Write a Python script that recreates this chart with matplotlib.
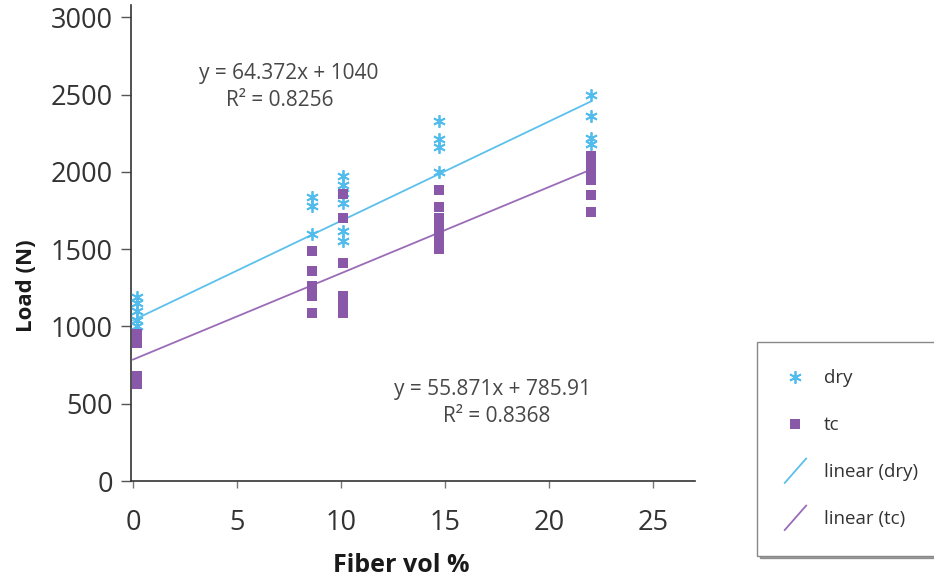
import matplotlib
matplotlib.use("Agg")
import matplotlib.pyplot as plt
import numpy as np
from matplotlib.lines import Line2D
from matplotlib.legend_handler import HandlerBase

# ---------------- data ----------------
dry_x = [0.2] * 5 + [8.6] * 3 + [10.1] * 6 + [14.7] * 4 + [22.0] * 4
dry_y = [1190, 1150, 1100, 1040, 1000,
         1840, 1780, 1600,
         1975, 1915, 1865, 1800, 1615, 1555,
         2330, 2210, 2160, 2000,
         2500, 2365, 2220, 2180]

tc_x = [0.2] * 5 + [8.6] * 5 + [10.1] * 6 + [14.7] * 7 + [22.0] * 6
tc_y = [950, 920, 890, 680, 630,
        1490, 1360, 1260, 1200, 1090,
        1860, 1700, 1410, 1200, 1150, 1090,
        1880, 1770, 1700, 1650, 1600, 1550, 1500,
        2100, 2050, 2000, 1950, 1850, 1740]

fit_slope = {"dry": 64.372, "tc": 55.871}
fit_intercept = {"dry": 1040, "tc": 785.91}
fit_r2 = {"dry": 0.8256, "tc": 0.8368}
fit_range = [0, 22]

x_ticks = [0, 5, 10, 15, 20, 25]
y_ticks = [0, 500, 1000, 1500, 2000, 2500, 3000]

# ---------------- style ----------------
plt.rcParams['font.family'] = ['Open Sans', 'DejaVu Sans']
c_dry = '#52bcec'
c_tc = '#8a58a8'
c_dry_line = '#5cc0ec'
c_tc_line = '#9a6cb8'
asterisk = (6, 2, 0)

W, H = 934, 583
fig = plt.figure(figsize=(W / 100, H / 100), dpi=100)
ax = fig.add_axes([131 / W, 1 - 481 / H, (695 - 131) / W, (481 - 5) / H])

ax.plot(dry_x, dry_y, linestyle='none', marker=asterisk, markersize=9,
        markeredgewidth=1.3, color=c_dry, label='dry', zorder=3)
ax.plot(tc_x, tc_y, linestyle='none', marker='s', markersize=7.5,
        color=c_tc, markeredgewidth=0, label='tc', zorder=3)

xf = np.array(fit_range, dtype=float)
ax.plot(xf, fit_slope['dry'] * xf + fit_intercept['dry'], color=c_dry_line,
        lw=1.3, label='linear (dry)', zorder=2)
ax.plot(xf, fit_slope['tc'] * xf + fit_intercept['tc'], color=c_tc_line,
        lw=1.3, label='linear (tc)', zorder=2)

ax.set_xlim(-0.1, 27.0)
ax.set_ylim(0, 3080)
ax.set_xticks(x_ticks)
ax.set_yticks(y_ticks)
for s in ['top', 'right']:
    ax.spines[s].set_visible(False)
for s in ['left', 'bottom']:
    ax.spines[s].set_color('#333333')
    ax.spines[s].set_linewidth(1.2)
ax.tick_params(axis='y', direction='out', length=7, width=1.0, color='#555555',
               labelsize=19.5, labelcolor='#333333', pad=6)
ax.tick_params(axis='x', direction='out', length=5, width=1.0, color='#777777',
               labelsize=19.5, labelcolor='#333333', pad=15)

ax.set_xlabel('Fiber vol %', fontsize=18, fontweight='bold', color='#1a1a1a')
ax.set_ylabel('Load (N)', fontsize=16, fontweight='bold', color='#1a1a1a')
# label positions (pixel coordinates of the reference, converted to axes fraction)
ax_x0, ax_x1, ax_y0, ax_y1 = 131, 695, 481, 5
ax.xaxis.set_label_coords((401 - ax_x0) / (ax_x1 - ax_x0), -(565 - ax_y0) / (ax_y0 - ax_y1))
ax.xaxis.label.set_va('center')
ax.yaxis.set_label_coords((27 - ax_x0) / (ax_x1 - ax_x0), (ax_y0 - 286) / (ax_y0 - ax_y1))
ax.yaxis.label.set_va('center')

eq_kw = dict(fontsize=15, color='#474747', ha='center', va='center',
             transform=fig.transFigure)
fig.text(289 / W, 1 - 73 / H, f"y = {fit_slope['dry']}x + {fit_intercept['dry']}", **eq_kw)
fig.text(280 / W, 1 - 101 / H, f"R² = {fit_r2['dry']}", **eq_kw)
fig.text(493 / W, 1 - 389 / H, f"y = {fit_slope['tc']}x + {fit_intercept['tc']}", **eq_kw)
fig.text(497 / W, 1 - 416 / H, f"R² = {fit_r2['tc']}", **eq_kw)


class DiagHandler(HandlerBase):
    def create_artists(self, legend, orig_handle, xdescent, ydescent, width,
                       height, fontsize, trans):
        cx = width / 2 - xdescent
        h = fontsize * 1.3
        w = width * 0.95
        cy = height / 2 - ydescent
        line = Line2D([cx - w / 2, cx + w / 2], [cy - h / 2, cy + h / 2],
                      color=orig_handle.get_color(), lw=orig_handle.get_linewidth())
        line.set_transform(trans)
        return [line]


handles, labels = ax.get_legend_handles_labels()
leg = fig.legend(handles, labels, loc='upper left',
                 bbox_to_anchor=(757 / W, 1 - 342 / H),
                 bbox_transform=fig.transFigure,
                 frameon=True, fancybox=False, shadow=True,
                 fontsize=13.5, labelspacing=1.55, borderpad=1.45,
                 handlelength=1.2, handletextpad=0.9, borderaxespad=0,
                 handler_map={handles[2]: DiagHandler(), handles[3]: DiagHandler()})
leg.get_frame().set_edgecolor('#888888')
leg.get_frame().set_linewidth(1.0)
for t in leg.get_texts():
    t.set_color('#333333')

fig.savefig('out.png', dpi=100)
